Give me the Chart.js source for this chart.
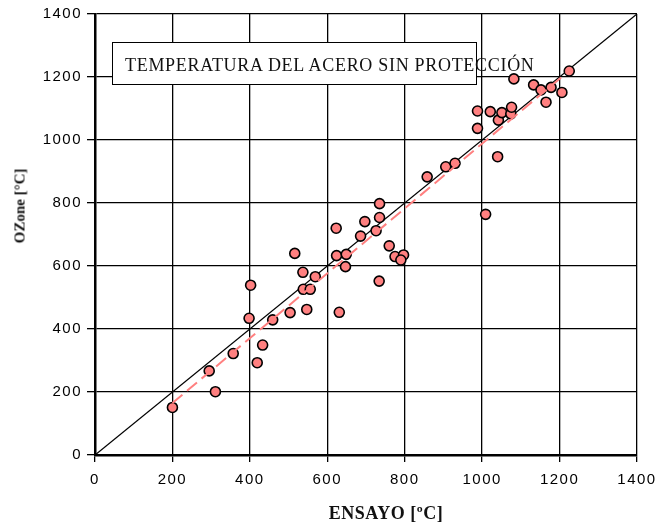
<!DOCTYPE html>
<html>
<head>
<meta charset="utf-8">
<script src="https://cdn.jsdelivr.net/npm/chart.js@4.4.0/dist/chart.umd.min.js"></script>
<style>
  html, body { margin: 0; padding: 0; background: #fff; }
  #wrap { position: relative; width: 663px; height: 524px; }
  #chart { position: absolute; left: 0; top: 0; }
  .box {
    position: absolute; left: 112px; top: 42px; width: 363px; height: 41px;
    border: 1.5px solid #000; background: #fff;
  }
  .boxText {
    position: absolute; left: 125px; top: 56px; line-height: 18px; white-space: nowrap;
    font-family: 'Liberation Serif', serif; font-size: 18px; letter-spacing: 0.7px; color: #111;
  }
  .xTitle {
    position: absolute; left: 386px; top: 513px; transform: translate(-50%, -50%);
    font-family: 'Liberation Serif', serif; font-weight: bold; font-size: 18px; letter-spacing: 0.5px;
    white-space: nowrap; color: #111;
  }
  .yTitle {
    position: absolute; left: 20px; top: 206px; transform: translate(-50%, -50%) rotate(-90deg);
    font-family: 'Liberation Serif', serif; font-weight: bold; font-size: 15px; white-space: nowrap; color: #111;
  }
</style>
</head>
<body>
<div id="wrap">
  <canvas id="chart" width="663" height="524"></canvas>
  <div class="box"></div>
  <div class="boxText">TEMPERATURA DEL ACERO SIN PROTECCIÓN</div>
  <div class="xTitle">ENSAYO [ºC]</div>
  <div class="yTitle">OZone [°C]</div>
</div>
<script>
// measured (ENSAYO) vs computed (OZone) steel temperature, ºC
const ensayo = [200, 311, 295, 357, 398, 402, 419, 433, 459, 504, 547, 538, 556, 569, 537, 516,
  631, 624, 649, 647, 623, 686, 697, 726, 735, 735, 734, 760, 775, 797, 790,
  858, 906, 930, 988, 988, 1009, 1021, 1040, 1042, 1051, 1074, 1076, 1082,
  1133, 1152, 1165, 1178, 1206, 1225];
const ozone = [151, 201, 267, 322, 434, 539, 293, 349, 429, 452, 462, 526, 526, 566, 580, 640,
  453, 633, 637, 598, 720, 695, 741, 712, 754, 798, 552, 664, 630, 635, 619,
  883, 915, 926, 1037, 1092, 764, 1090, 947, 1063, 1087, 1083, 1104, 1194,
  1175, 1159, 1120, 1167, 1151, 1219];

// y = x reference line and the fitted trend
const idealX = [0, 1400];
const idealY = [0, 1400];
const trendX = [200, 1220];
const trendY = [165, 1215];

const AXIS_TICKS = [0, 200, 400, 600, 800, 1000, 1200, 1400];

const toPoints = (xs, ys) => xs.map((x, i) => ({ x, y: ys[i] }));

// canvas text in the reference is widely tracked
const spacing = {
  id: 'spacing',
  beforeUpdate(chart) { chart.ctx.letterSpacing = '1.5px'; },
  beforeDraw(chart) { chart.ctx.letterSpacing = '1.5px'; },
};

const tickFont = { family: "'Liberation Sans', Arial, sans-serif", size: 15 };
const plain = (v) => String(v);

new Chart(document.getElementById('chart'), {
  type: 'scatter',
  data: {
    datasets: [
      {
        label: 'ideal',
        type: 'line',
        data: toPoints(idealX, idealY),
        borderColor: '#000',
        borderWidth: 1.3,
        pointRadius: 0,
        fill: false,
        order: 3,
      },
      {
        label: 'datos',
        data: toPoints(ensayo, ozone),
        backgroundColor: '#ff8080',
        borderColor: '#000',
        borderWidth: 1.6,
        pointRadius: 5,
        order: 2,
      },
      {
        label: 'tendencia',
        type: 'line',
        data: toPoints(trendX, trendY),
        borderColor: '#ff8080',
        borderWidth: 2,
        borderDash: [13, 6],
        pointRadius: 0,
        fill: false,
        order: 1,
      },
    ],
  },
  options: {
    responsive: false,
    animation: false,
    layout: { padding: { left: 0, top: 14, right: 26, bottom: 0 } },
    plugins: { legend: { display: false }, tooltip: { enabled: false } },
    scales: {
      x: {
        type: 'linear',
        min: 0,
        max: 1400,
        afterBuildTicks: (s) => { s.ticks = AXIS_TICKS.map(v => ({ value: v })); },
        afterFit: (s) => { s.height = 69; s.paddingLeft = 0; s.paddingRight = 0; },
        grid: { color: '#000', lineWidth: 1.3, tickLength: 7, tickColor: '#000' },
        border: { color: '#000', width: 2.5 },
        ticks: { color: '#000', font: tickFont, padding: 9, maxRotation: 0, callback: plain },
      },
      y: {
        type: 'linear',
        min: 0,
        max: 1400,
        afterBuildTicks: (s) => { s.ticks = AXIS_TICKS.map(v => ({ value: v })); },
        afterFit: (s) => { s.width = 95; s.paddingTop = 0; s.paddingBottom = 0; },
        grid: { color: '#000', lineWidth: 1.3, tickLength: 8, tickColor: '#000' },
        border: { color: '#000', width: 2.5 },
        ticks: { color: '#000', font: tickFont, padding: 5, callback: plain },
      },
    },
  },
  plugins: [spacing],
});
</script>
</body>
</html>
